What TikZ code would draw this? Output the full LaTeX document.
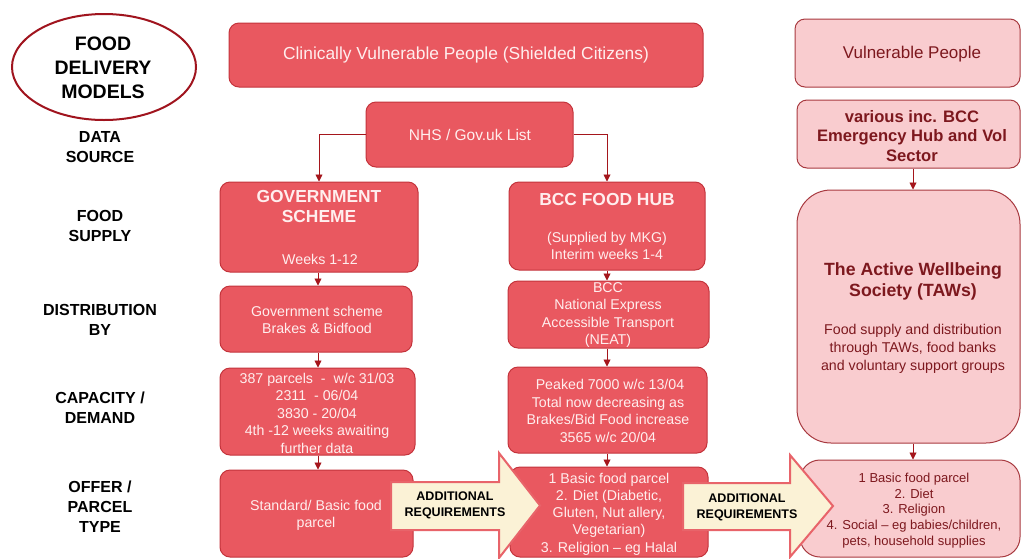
\documentclass[tikz,border=0pt]{standalone}
\usepackage{fontspec}
\setmainfont{Liberation Sans}
\usetikzlibrary{arrows.meta,shapes.geometric}
\definecolor{redfill}{RGB}{233,88,96}
\definecolor{redline}{RGB}{196,52,60}
\definecolor{pinkfill}{RGB}{249,204,207}
\definecolor{pinkline}{RGB}{168,58,64}
\definecolor{darktxt}{RGB}{125,24,30}
\definecolor{arrowcol}{RGB}{165,22,28}
\definecolor{creamfill}{RGB}{251,242,214}
\definecolor{creamline}{RGB}{232,100,106}
\definecolor{ellline}{RGB}{160,20,30}
\definecolor{wtext}{RGB}{255,238,238}
\tikzset{
  rbox/.style={draw=redline, line width=1pt, fill=redfill, rounded corners=10pt, inner sep=0pt},
  pbox/.style={draw=pinkline, line width=1pt, fill=pinkfill, rounded corners=10pt, inner sep=0pt},
  wtxt/.style={text=wtext, align=center, inner sep=0pt, font=\fontsize{14.2}{17.3}\selectfont},
  wbold/.style={text=wtext, align=center, inner sep=0pt, font=\bfseries\fontsize{17.4}{20}\selectfont},
  dtxt/.style={text=darktxt, align=center, inner sep=0pt, font=\fontsize{14.2}{18}\selectfont},
  dbold/.style={text=darktxt, align=center, inner sep=0pt, font=\bfseries\fontsize{16.6}{19.5}\selectfont},
  rowlabel/.style={text=black, align=center, inner sep=0pt, font=\bfseries\fontsize{16}{20}\selectfont},
  addreq/.style={text=black, align=center, inner sep=0pt, font=\bfseries\fontsize{12.5}{16}\selectfont},
  conn/.style={draw=arrowcol, line width=0.9pt, -{Triangle[length=7pt,width=7pt]}},
  bigarrow/.style={draw=creamline, line width=2pt, fill=creamfill, line join=miter},
}
\begin{document}
\begin{tikzpicture}[x=1pt,y=-1pt]
\useasboundingbox[fill=white] (0,0) rectangle (1021,558);

% title ellipse
\node[draw=ellline, line width=2pt, ellipse, minimum width=184pt, minimum height=106pt, inner sep=0pt] (ell) at (104,67) {};
\node[rowlabel, font=\bfseries\fontsize{19.5}{24}\selectfont] (title) at (103,68) {FOOD\\DELIVERY\\MODELS};

% row labels
\node[rowlabel] (ldata) at (100,147) {DATA\\SOURCE};
\node[rowlabel] (lsupply) at (100,226) {FOOD\\SUPPLY};
\node[rowlabel] (ldist) at (100,320) {DISTRIBUTION\\BY};
\node[rowlabel] (lcap) at (100,408) {CAPACITY /\\DEMAND};
\node[rowlabel] (loffer) at (100,507) {OFFER /\\PARCEL\\TYPE};

% top boxes
\node[rbox, minimum width=474pt, minimum height=64pt] (cvp) at (466,55) {};
\node[wtxt, font=\fontsize{17.4}{20}\selectfont] (cvpt) at (466,55) {Clinically Vulnerable People (Shielded Citizens)};
\node[pbox, minimum width=225pt, minimum height=68pt] (vp) at (907.5,53) {};
\node[dtxt, font=\fontsize{17}{20}\selectfont] (vpt) at (912,54) {Vulnerable People};

% data source
\node[rbox, minimum width=207pt, minimum height=65pt] (nhs) at (469.5,134.5) {};
\node[wtxt, font=\fontsize{15.5}{18}\selectfont] (nhst) at (470,135) {NHS / Gov.uk List};
\node[pbox, minimum width=223pt, minimum height=68pt] (various) at (908.5,134) {};
\node[dbold] (varioust) at (912,136) {various inc. BCC\\Emergency Hub and Vol\\Sector};

% food supply
\node[rbox, minimum width=198pt, minimum height=90pt] (gov) at (319,227) {};
\node[wbold] (govt) at (319,207) {GOVERNMENT\\SCHEME};
\node[wtxt] (govw) at (320,259) {Weeks 1-12};
\node[rbox, minimum width=196pt, minimum height=88pt] (hub) at (607,226) {};
\node[wbold] (hubt) at (607,200) {BCC FOOD HUB};
\node[wtxt] (hubw) at (607,246) {(Supplied by MKG)\\Interim weeks 1-4};
\node[pbox, rounded corners=34pt, minimum width=223pt, minimum height=253pt] (taws) at (908.5,316.5) {};
\node[dbold, font=\bfseries\fontsize{17.7}{21}\selectfont] (tawst) at (913,281) {The Active Wellbeing\\Society (TAWs)};
\node[dtxt] (tawsb) at (913,349) {Food supply and distribution\\through TAWs, food banks\\and voluntary support groups};

% distribution
\node[rbox, minimum width=192pt, minimum height=66pt] (gdist) at (316,319) {};
\node[wtxt] (gdistt) at (317,320) {Government scheme\\Brakes \& Bidfood};
\node[rbox, minimum width=201pt, minimum height=67pt] (bdist) at (608.5,314.5) {};
\node[wtxt] (bdistt) at (608,315) {BCC\\National Express\\Accessible Transport\\(NEAT)};

% capacity
\node[rbox, minimum width=195pt, minimum height=87pt] (gcap) at (317.5,411.5) {};
\node[wtxt, font=\fontsize{14.2}{17.5}\selectfont] (gcapt) at (317,413) {387 parcels \ - \ w/c 31/03\\2311 \ - 06/04\\3830 - 20/04\\4th -12 weeks awaiting\\further data};
\node[rbox, minimum width=199pt, minimum height=86pt] (bcap) at (607.5,410) {};
\node[wtxt, font=\fontsize{14.2}{17.5}\selectfont] (bcapt) at (608,411) {\ Peaked 7000 w/c 13/04\\Total now decreasing as\\Brakes/Bid Food increase\\3565 w/c 20/04};

% offer
\node[rbox, minimum width=193pt, minimum height=87pt] (gofr) at (316.5,513.5) {};
\node[wtxt] (gofrt) at (316,515.5) {Standard/ Basic food\\parcel};
\node[rbox, minimum width=198pt, minimum height=90pt] (bofr) at (609,512) {};
\node[wtxt] (bofrt) at (609,514) {1 Basic food parcel\\2. Diet (Diabetic,\\Gluten, Nut allery,\\Vegetarian)\\3. Religion -- eg Halal};
\node[pbox, rounded corners=20pt, minimum width=220pt, minimum height=97pt] (rofr) at (910,508.5) {};
\node[dtxt, font=\fontsize{13}{15.8}\selectfont] (rofrt) at (914,510.5) {1 Basic food parcel\\2. Diet\\3. Religion\\4. Social -- eg babies/children,\\pets, household supplies};

% connectors
\draw[conn] (nhs.west) -| (gov.north);
\draw[conn] (nhs.east) -| (hub.north);
\draw[conn] (gov.south -| gdist.north) ++(2,0) coordinate (g1) -- (g1 |- gdist.north);
\draw[conn] (gdist.south) ++(2,0) coordinate (g2) -- (g2 |- gcap.north);
\draw[conn] (gcap.south) ++(0.5,0) coordinate (g3) -- (g3 |- gofr.north);
\draw[conn] (hub.south) coordinate (h1) -- (h1 |- bdist.north);
\draw[conn] (bdist.south) ++(-1.5,0) coordinate (h2) -- (h2 |- bcap.north);
\draw[conn] (bcap.south) ++(-0.5,0) coordinate (h3) -- (h3 |- bofr.north);
\draw[conn] (various.south) ++(4.5,0) coordinate (v1) -- (v1 |- taws.north);
\draw[conn] (taws.south) ++(4.5,0) coordinate (v2) -- (v2 |- rofr.north);

% big arrows
\draw[bigarrow] (391,482) -- (499,482) -- (499,453) -- (540,505.5) -- (499,558) -- (499,530) -- (391,530) -- cycle;
\node[addreq] (add1) at (455,505) {ADDITIONAL\\REQUIREMENTS};
\draw[bigarrow] (683,483) -- (790,483) -- (790,455) -- (833,506) -- (790,557) -- (790,530) -- (683,530) -- cycle;
\node[addreq] (add2) at (747,507) {ADDITIONAL\\REQUIREMENTS};
\end{tikzpicture}
\end{document}
